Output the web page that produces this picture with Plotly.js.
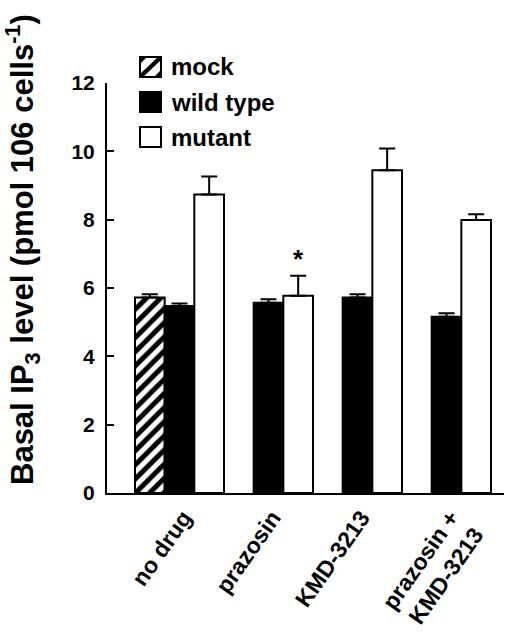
<!DOCTYPE html>
<html>
<head>
<meta charset="utf-8">
<script src="https://cdn.plot.ly/plotly-3.0.1.min.js"></script>
<style>html,body{margin:0;padding:0;background:#fff;}#chart{width:511px;height:640px;}</style>
</head>
<body>
<div id="chart"></div>
<script>
// ---- data ----
const categories = ['no drug', 'prazosin', 'KMD-3213', 'prazosin +<br>KMD-3213'];
const seriesNames = ['mock', 'wild type', 'mutant'];
const mockValues = [5.72, null, null, null];
const mockErrors = [0.10, null, null, null];
const wildTypeValues = [5.47, 5.57, 5.72, 5.16];
const wildTypeErrors = [0.08, 0.10, 0.10, 0.10];
const mutantValues = [8.74, 5.77, 9.45, 7.99];
const mutantErrors = [0.52, 0.59, 0.63, 0.17];
const mutantSignificance = ['', '*', '', ''];
const yTickValues = [0, 2, 4, 6, 8, 10, 12];
const yTitle = 'Basal IP<sub>3</sub> level (pmol 106 cells<sup>-1</sup>)';

// ---- layout geometry (pixels) ----
const W = 511, H = 640;
const M = {l: 107, r: 7, t: 83, b: 147};
const PW = W - M.l - M.r, PH = H - M.t - M.b;
const px = x => (x - M.l) / PW;
const py = y => (H - M.b - y) / PH;

const FONT = 'Liberation Sans, Arial, Helvetica, sans-serif';

function errorSpec(arr) {
  return {type: 'data', symmetric: false, array: arr, arrayminus: arr.map(() => 0),
          color: '#000', thickness: 2, width: 8, visible: true};
}

const lineSpec = {color: '#000', width: 2};

const traces = [
  {type: 'bar', name: seriesNames[0], x: categories, y: mockValues,
   marker: {color: '#fff', line: lineSpec,
            pattern: {shape: '/', size: 10, solidity: 0.5, fgcolor: '#000', bgcolor: '#fff'}},
   error_y: errorSpec(mockErrors), showlegend: false},
  {type: 'bar', name: seriesNames[1], x: categories, y: wildTypeValues,
   marker: {color: '#000', line: lineSpec},
   error_y: errorSpec(wildTypeErrors), showlegend: false},
  {type: 'bar', name: seriesNames[2], x: categories, y: mutantValues,
   marker: {color: '#fff', line: lineSpec},
   error_y: errorSpec(mutantErrors), showlegend: false}
];

const annotations = [];
// significance markers above mutant bars
mutantSignificance.forEach((s, i) => {
  if (!s) return;
  annotations.push({x: i + 1 / 3, y: mutantValues[i] + mutantErrors[i], xref: 'x', yref: 'y',
    text: '<b>' + s + '</b>', showarrow: false, yanchor: 'bottom', yshift: 0,
    font: {family: FONT, size: 26, color: '#000'}});
});
// y-axis title
annotations.push({x: px(22), y: py(250), xref: 'paper', yref: 'paper', text: '<b>' + yTitle + '</b>',
  textangle: -90, showarrow: false, xanchor: 'center', yanchor: 'middle',
  font: {family: FONT, size: 31, color: '#000'}});

// custom legend (swatches + labels)
const shapes = [];
const legendTop = [57, 92, 127];
const swX0 = 140, swX1 = 161, swH = 20;
const swFill = ['#fff', '#000', '#fff'];
legendTop.forEach((t, i) => {
  shapes.push({type: 'rect', xref: 'paper', yref: 'paper', x0: px(swX0), x1: px(swX1), y0: py(t + swH), y1: py(t),
    fillcolor: swFill[i], line: {color: '#000', width: 2}});
  annotations.push({x: px(169), y: py(t + swH / 2), xref: 'paper', yref: 'paper', text: '<b>' + seriesNames[i] + '</b>',
    showarrow: false, xanchor: 'left', yanchor: 'middle', font: {family: FONT, size: 24, color: '#000'}});
});
// hatch inside mock swatch
(function () {
  const t = legendTop[0], x0 = swX0, x1 = swX1, y0 = t, y1 = t + swH;
  const P = (x, y) => px(x) + ',' + py(y);
  const tri1 = 'M' + P(x0, y0) + ' L' + P(x0 + 7, y0) + ' L' + P(x0, y0 + 7) + ' Z';
  const band = 'M' + P(x0, y1 - 3) + ' L' + P(x1 - 3, y0) + ' L' + P(x1, y0) + ' L' + P(x1, y0 + 3) + ' L' + P(x0 + 3, y1) + ' L' + P(x0, y1) + ' Z';
  const tri2 = 'M' + P(x1, y1) + ' L' + P(x1 - 7, y1) + ' L' + P(x1, y1 - 7) + ' Z';
  [tri1, band, tri2].forEach(p => shapes.push({type: 'path', xref: 'paper', yref: 'paper', path: p,
    fillcolor: '#000', line: {color: '#000', width: 0}}));
})();

const layout = {
  width: W, height: H,
  margin: M,
  paper_bgcolor: '#fff', plot_bgcolor: '#fff',
  barmode: 'group', bargap: 0, bargroupgap: 0,
  showlegend: false,
  font: {family: FONT, color: '#000'},
  xaxis: {
    type: 'category', range: [-0.5 - 28 / 89, -0.5 - 28 / 89 + PW / 89],
    showline: true, linecolor: '#000', linewidth: 2, ticks: '', showgrid: false, zeroline: false,
    tickangle: -55, ticklabelshift: 4, ticklabelstandoff: 0,
    tickfont: {family: FONT, size: 23, weight: 'bold', color: '#000'}
  },
  yaxis: {
    range: [0, 12], tickvals: yTickValues, ticktext: yTickValues.map(String),
    showline: true, linecolor: '#000', linewidth: 2, ticks: 'inside', ticklen: 7, tickwidth: 2, tickcolor: '#000',
    showgrid: false, zeroline: false, ticklabelstandoff: 6,
    tickfont: {family: FONT, size: 21, weight: 'bold', color: '#000'}
  },
  annotations: annotations,
  shapes: shapes
};

Plotly.newPlot('chart', traces, layout, {displayModeBar: false, staticPlot: true});
</script>
</body>
</html>
